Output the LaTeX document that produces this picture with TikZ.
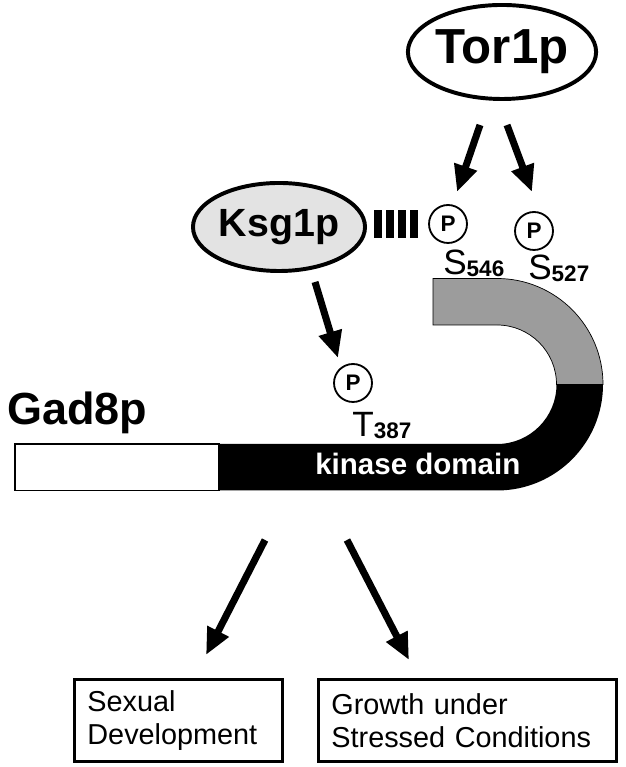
\documentclass[tikz,border=0pt]{standalone}
\usepackage{fontspec}
\setmainfont{Liberation Sans}
\usetikzlibrary{arrows.meta,shapes.geometric}
\colorlet{ksgfill}{black!11}
\colorlet{armgray}{black!39}

\begin{document}
\begin{tikzpicture}[x=0.025cm,y=0.025cm,
  prot/.style={ellipse,draw,line width=2.8pt,inner sep=0pt,font=\bfseries\fontsize{35}{35}\selectfont},
  phos/.style={circle,draw,line width=1.3pt,minimum size=27pt,inner sep=0pt,font=\bfseries\fontsize{16}{16}\selectfont},
  site/.style={anchor=base west,inner sep=0pt,font=\fontsize{25}{25}\selectfont},
  fat/.style={-{Triangle[length=19pt,width=16pt]},line width=5pt},
  outbox/.style={draw,line width=2pt,anchor=north west,align=left,inner xsep=0.325cm,
    minimum height=2.05cm,font=\fontsize{20.5}{23.5}\selectfont}]
\useasboundingbox (0,0) rectangle (625,767);

\node[prot,minimum width=4.7cm,minimum height=2.35cm] (tor) at (502,715) {Tor1p};
\node[prot,fill=ksgfill,minimum width=4.3cm,minimum height=2.2cm,font=\bfseries\fontsize{28}{28}\selectfont] (ksg) at (279,540) {Ksg1p};

\foreach \x in {378,390,402,414} \draw[line width=5pt] (\x,529) -- (\x,557);

\node[phos] (p546) at (448,543) {P};
\node[phos] (p527) at (534,536) {P};
\node[phos] (p387) at (353,384) {P};
\node[site] (s546) at (443,492) {S\raisebox{-1pt}{\bfseries\fontsize{16}{16}\selectfont 546}};
\node[site] (s527) at (528,487) {S\raisebox{-1pt}{\bfseries\fontsize{16}{16}\selectfont 527}};
\node[site] (t387) at (352,330) {T\raisebox{-1pt}{\bfseries\fontsize{16}{16}\selectfont 387}};

\filldraw[fill=armgray,line width=0.5pt] (433,488.5) -- (497,488.5) arc[start angle=90,end angle=0,radius=106]
  -- (556.5,382.5) arc[start angle=0,end angle=90,radius=59.5] -- (433,442) -- cycle;
\fill (219,323) -- (497,323) arc[start angle=-90,end angle=0,radius=59.5] -- (603,382.5)
  arc[start angle=0,end angle=-90,radius=106] -- (219,276.5) -- cycle;
\draw[line width=0.8pt] (15,276.5) rectangle (219,323);
\node[anchor=base west,inner sep=0pt,text=white,font=\bfseries\fontsize{21}{21}\selectfont] (kin) at (315,292) {kinase domain};
\node[anchor=base west,inner sep=0pt,font=\bfseries\fontsize{32}{32}\selectfont] (gad) at (7,342) {Gad8p};

\node[outbox,minimum width=5.2cm,text width=4.55cm] (sex) at (73,89) {Sexual\\Development};
\node[outbox,minimum width=7.45cm,text width=6.8cm] (grow) at (317,89) {Growth under\\Stressed Conditions};

\coordinate (ta1) at (480,642); \coordinate (tb1) at (457,575);
\coordinate (ta2) at (507,642); \coordinate (tb2) at (532,575);
\coordinate (ka) at (315,485); \coordinate (kb) at (338,409);
\coordinate (ga1) at (265,227); \coordinate (gb1) at (206,112);
\coordinate (ga2) at (347,227); \coordinate (gb2) at (409,107);
\draw[fat] (ta1) -- (tb1);
\draw[fat] (ta2) -- (tb2);
\draw[fat] (ka) -- (kb);
\draw[fat] (ga1) -- (gb1);
\draw[fat] (ga2) -- (gb2);
\end{tikzpicture}
\end{document}
